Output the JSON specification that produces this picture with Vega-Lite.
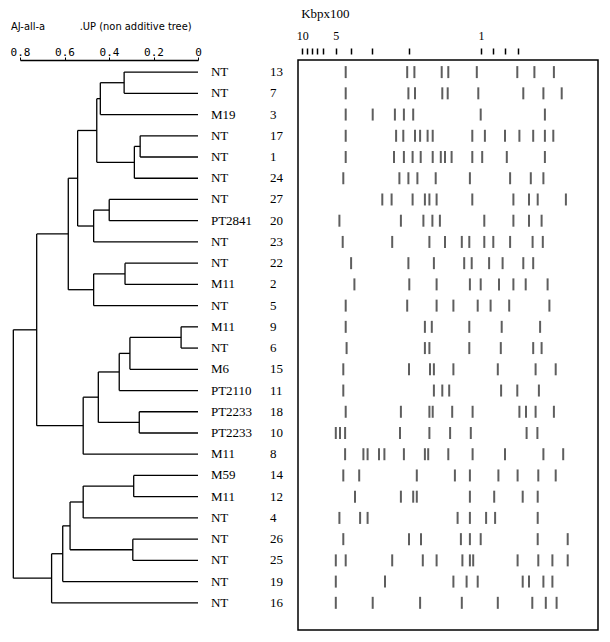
{
  "$schema": "https://vega.github.io/schema/vega-lite/v6.json",
  "background": "white",
  "padding": {"left": 10, "top": 7, "right": 5, "bottom": 5},
  "spacing": 11,
  "config": {"view": {"stroke": null}, "axis": {"grid": false}},
  "datasets": {
    "segments": [
      {"d1":0,"d2":0.332,"r1":1,"r2":1},{"d1":0,"d2":0.332,"r1":2,"r2":2},{"d1":0,"d2":0.439,"r1":3,"r2":3},
      {"d1":0,"d2":0.26,"r1":4,"r2":4},{"d1":0,"d2":0.26,"r1":5,"r2":5},{"d1":0,"d2":0.286,"r1":6,"r2":6},
      {"d1":0,"d2":0.399,"r1":7,"r2":7},{"d1":0,"d2":0.399,"r1":8,"r2":8},{"d1":0,"d2":0.469,"r1":9,"r2":9},
      {"d1":0,"d2":0.328,"r1":10,"r2":10},{"d1":0,"d2":0.328,"r1":11,"r2":11},{"d1":0,"d2":0.469,"r1":12,"r2":12},
      {"d1":0,"d2":0.076,"r1":13,"r2":13},{"d1":0,"d2":0.076,"r1":14,"r2":14},{"d1":0,"d2":0.306,"r1":15,"r2":15},
      {"d1":0,"d2":0.354,"r1":16,"r2":16},{"d1":0,"d2":0.264,"r1":17,"r2":17},{"d1":0,"d2":0.264,"r1":18,"r2":18},
      {"d1":0,"d2":0.516,"r1":19,"r2":19},{"d1":0,"d2":0.289,"r1":20,"r2":20},{"d1":0,"d2":0.289,"r1":21,"r2":21},
      {"d1":0,"d2":0.516,"r1":22,"r2":22},{"d1":0,"d2":0.293,"r1":23,"r2":23},{"d1":0,"d2":0.293,"r1":24,"r2":24},
      {"d1":0,"d2":0.608,"r1":25,"r2":25},{"d1":0,"d2":0.658,"r1":26,"r2":26},
      {"d1":0.332,"d2":0.439,"r1":1.5,"r2":1.5},{"d1":0.439,"d2":0.455,"r1":2.25,"r2":2.25},
      {"d1":0.26,"d2":0.286,"r1":4.5,"r2":4.5},{"d1":0.286,"d2":0.455,"r1":5.25,"r2":5.25},
      {"d1":0.455,"d2":0.541,"r1":3.75,"r2":3.75},{"d1":0.399,"d2":0.469,"r1":7.5,"r2":7.5},
      {"d1":0.469,"d2":0.541,"r1":8.25,"r2":8.25},{"d1":0.541,"d2":0.583,"r1":6,"r2":6},
      {"d1":0.328,"d2":0.469,"r1":10.5,"r2":10.5},{"d1":0.469,"d2":0.583,"r1":11.25,"r2":11.25},
      {"d1":0.583,"d2":0.725,"r1":8.625,"r2":8.625},
      {"d1":0.076,"d2":0.306,"r1":13.5,"r2":13.5},{"d1":0.306,"d2":0.354,"r1":14.25,"r2":14.25},
      {"d1":0.354,"d2":0.448,"r1":15.125,"r2":15.125},{"d1":0.264,"d2":0.448,"r1":17.5,"r2":17.5},
      {"d1":0.448,"d2":0.516,"r1":16.3125,"r2":16.3125},{"d1":0.516,"d2":0.725,"r1":17.656,"r2":17.656},
      {"d1":0.725,"d2":0.83,"r1":13.14,"r2":13.14},
      {"d1":0.289,"d2":0.516,"r1":20.5,"r2":20.5},{"d1":0.516,"d2":0.575,"r1":21.25,"r2":21.25},
      {"d1":0.293,"d2":0.575,"r1":23.5,"r2":23.5},{"d1":0.575,"d2":0.608,"r1":22.375,"r2":22.375},
      {"d1":0.608,"d2":0.658,"r1":23.6875,"r2":23.6875},{"d1":0.658,"d2":0.83,"r1":24.84,"r2":24.84},
      {"d1":0.332,"d2":0.332,"r1":1,"r2":2},{"d1":0.439,"d2":0.439,"r1":1.5,"r2":3},
      {"d1":0.26,"d2":0.26,"r1":4,"r2":5},{"d1":0.286,"d2":0.286,"r1":4.5,"r2":6},
      {"d1":0.455,"d2":0.455,"r1":2.25,"r2":5.25},{"d1":0.399,"d2":0.399,"r1":7,"r2":8},
      {"d1":0.469,"d2":0.469,"r1":7.5,"r2":9},{"d1":0.541,"d2":0.541,"r1":3.75,"r2":8.25},
      {"d1":0.328,"d2":0.328,"r1":10,"r2":11},{"d1":0.469,"d2":0.469,"r1":10.5,"r2":12},
      {"d1":0.583,"d2":0.583,"r1":6,"r2":11.25},
      {"d1":0.076,"d2":0.076,"r1":13,"r2":14},{"d1":0.306,"d2":0.306,"r1":13.5,"r2":15},
      {"d1":0.354,"d2":0.354,"r1":14.25,"r2":16},{"d1":0.264,"d2":0.264,"r1":17,"r2":18},
      {"d1":0.448,"d2":0.448,"r1":15.125,"r2":17.5},{"d1":0.516,"d2":0.516,"r1":16.3125,"r2":19},
      {"d1":0.725,"d2":0.725,"r1":8.625,"r2":17.656},
      {"d1":0.289,"d2":0.289,"r1":20,"r2":21},{"d1":0.516,"d2":0.516,"r1":20.5,"r2":22},
      {"d1":0.293,"d2":0.293,"r1":23,"r2":24},{"d1":0.575,"d2":0.575,"r1":21.25,"r2":23.5},
      {"d1":0.608,"d2":0.608,"r1":22.375,"r2":25},{"d1":0.658,"d2":0.658,"r1":23.6875,"r2":26},
      {"d1":0.83,"d2":0.83,"r1":13.14,"r2":24.84}
    ],
    "leaves": [
      {"r":1,"strain":"NT","isolate":"13"},{"r":2,"strain":"NT","isolate":"7"},{"r":3,"strain":"M19","isolate":"3"},
      {"r":4,"strain":"NT","isolate":"17"},{"r":5,"strain":"NT","isolate":"1"},{"r":6,"strain":"NT","isolate":"24"},
      {"r":7,"strain":"NT","isolate":"27"},{"r":8,"strain":"PT2841","isolate":"20"},{"r":9,"strain":"NT","isolate":"23"},
      {"r":10,"strain":"NT","isolate":"22"},{"r":11,"strain":"M11","isolate":"2"},{"r":12,"strain":"NT","isolate":"5"},
      {"r":13,"strain":"M11","isolate":"9"},{"r":14,"strain":"NT","isolate":"6"},{"r":15,"strain":"M6","isolate":"15"},
      {"r":16,"strain":"PT2110","isolate":"11"},{"r":17,"strain":"PT2233","isolate":"18"},{"r":18,"strain":"PT2233","isolate":"10"},
      {"r":19,"strain":"M11","isolate":"8"},{"r":20,"strain":"M59","isolate":"14"},{"r":21,"strain":"M11","isolate":"12"},
      {"r":22,"strain":"NT","isolate":"4"},{"r":23,"strain":"NT","isolate":"26"},{"r":24,"strain":"NT","isolate":"25"},
      {"r":25,"strain":"NT","isolate":"19"},{"r":26,"strain":"NT","isolate":"16"}
    ],
    "bands": [
      {"r":1,"m":15.9},{"r":1,"m":36.4},{"r":1,"m":38.8},{"r":1,"m":47.9},{"r":1,"m":50.1},{"r":1,"m":59.6},{"r":1,"m":73.1},{"r":1,"m":78.8},{"r":1,"m":85.3},
      {"r":2,"m":15.9},{"r":2,"m":36.8},{"r":2,"m":39.0},{"r":2,"m":48.1},{"r":2,"m":49.9},{"r":2,"m":60.1},{"r":2,"m":75.1},{"r":2,"m":81.8},{"r":2,"m":87.9},
      {"r":3,"m":15.9},{"r":3,"m":24.9},{"r":3,"m":32.3},{"r":3,"m":35.3},{"r":3,"m":38.4},{"r":3,"m":60.9},{"r":3,"m":82.3},
      {"r":4,"m":15.9},{"r":4,"m":32.7},{"r":4,"m":35.1},{"r":4,"m":39.0},{"r":4,"m":40.7},{"r":4,"m":43.2},{"r":4,"m":44.9},{"r":4,"m":58.1},{"r":4,"m":62.3},{"r":4,"m":69.0},{"r":4,"m":73.8},{"r":4,"m":78.4},{"r":4,"m":82.3},{"r":4,"m":85.1},
      {"r":5,"m":15.9},{"r":5,"m":32.0},{"r":5,"m":35.3},{"r":5,"m":38.2},{"r":5,"m":40.9},{"r":5,"m":44.9},{"r":5,"m":47.6},{"r":5,"m":49.0},{"r":5,"m":51.2},{"r":5,"m":58.1},{"r":5,"m":61.4},{"r":5,"m":69.6},{"r":5,"m":82.3},
      {"r":6,"m":15.1},{"r":6,"m":33.8},{"r":6,"m":36.8},{"r":6,"m":39.8},{"r":6,"m":45.9},{"r":6,"m":57.3},{"r":6,"m":70.7},{"r":6,"m":77.6},{"r":6,"m":81.8},
      {"r":7,"m":28.1},{"r":7,"m":31.2},{"r":7,"m":38.2},{"r":7,"m":42.3},{"r":7,"m":43.8},{"r":7,"m":46.2},{"r":7,"m":58.1},{"r":7,"m":71.8},{"r":7,"m":77.0},{"r":7,"m":79.9},{"r":7,"m":89.3},
      {"r":8,"m":13.8},{"r":8,"m":34.3},{"r":8,"m":41.8},{"r":8,"m":44.8},{"r":8,"m":47.3},{"r":8,"m":62.1},{"r":8,"m":71.8},{"r":8,"m":77.0},{"r":8,"m":81.2},
      {"r":9,"m":14.9},{"r":9,"m":31.4},{"r":9,"m":43.8},{"r":9,"m":49.0},{"r":9,"m":54.6},{"r":9,"m":57.1},{"r":9,"m":62.1},{"r":9,"m":65.1},{"r":9,"m":70.7},{"r":9,"m":78.2},{"r":9,"m":81.6},
      {"r":10,"m":17.7},{"r":10,"m":36.8},{"r":10,"m":45.3},{"r":10,"m":55.4},{"r":10,"m":57.9},{"r":10,"m":63.7},{"r":10,"m":68.2},{"r":10,"m":75.1},{"r":10,"m":78.4},
      {"r":11,"m":18.8},{"r":11,"m":37.1},{"r":11,"m":46.2},{"r":11,"m":57.3},{"r":11,"m":60.9},{"r":11,"m":67.0},{"r":11,"m":71.8},{"r":11,"m":75.9},{"r":11,"m":83.2},
      {"r":12,"m":15.9},{"r":12,"m":36.4},{"r":12,"m":46.2},{"r":12,"m":51.8},{"r":12,"m":59.9},{"r":12,"m":64.2},{"r":12,"m":70.4},{"r":12,"m":83.8},
      {"r":13,"m":15.9},{"r":13,"m":42.3},{"r":13,"m":44.6},{"r":13,"m":57.1},{"r":13,"m":67.9},{"r":13,"m":80.7},
      {"r":14,"m":16.2},{"r":14,"m":42.3},{"r":14,"m":43.8},{"r":14,"m":57.1},{"r":14,"m":67.6},{"r":14,"m":78.4},{"r":14,"m":81.2},
      {"r":15,"m":15.1},{"r":15,"m":37.0},{"r":15,"m":44.0},{"r":15,"m":45.3},{"r":15,"m":51.8},{"r":15,"m":66.6},{"r":15,"m":79.2},{"r":15,"m":85.9},
      {"r":16,"m":15.1},{"r":16,"m":45.3},{"r":16,"m":48.1},{"r":16,"m":50.4},{"r":16,"m":67.7},{"r":16,"m":73.1},{"r":16,"m":80.3},
      {"r":17,"m":15.9},{"r":17,"m":34.3},{"r":17,"m":43.8},{"r":17,"m":44.9},{"r":17,"m":51.4},{"r":17,"m":58.2},{"r":17,"m":73.8},{"r":17,"m":76.0},{"r":17,"m":79.2},{"r":17,"m":85.3},
      {"r":18,"m":12.6},{"r":18,"m":14.0},{"r":18,"m":15.7},{"r":18,"m":34.0},{"r":18,"m":43.8},{"r":18,"m":50.7},{"r":18,"m":57.6},{"r":18,"m":76.2},{"r":18,"m":79.8},
      {"r":19,"m":15.7},{"r":19,"m":21.8},{"r":19,"m":23.2},{"r":19,"m":27.0},{"r":19,"m":28.8},{"r":19,"m":35.3},{"r":19,"m":42.3},{"r":19,"m":43.4},{"r":19,"m":50.1},{"r":19,"m":58.2},{"r":19,"m":69.0},{"r":19,"m":81.8},{"r":19,"m":88.4},
      {"r":20,"m":15.1},{"r":20,"m":20.4},{"r":20,"m":39.6},{"r":20,"m":52.3},{"r":20,"m":57.3},{"r":20,"m":66.8},{"r":20,"m":73.2},{"r":20,"m":80.1},{"r":20,"m":85.9},
      {"r":21,"m":19.0},{"r":21,"m":34.3},{"r":21,"m":38.4},{"r":21,"m":39.6},{"r":21,"m":57.3},{"r":21,"m":65.4},{"r":21,"m":74.9},{"r":21,"m":79.9},
      {"r":22,"m":13.8},{"r":22,"m":20.7},{"r":22,"m":23.2},{"r":22,"m":53.2},{"r":22,"m":57.3},{"r":22,"m":62.7},{"r":22,"m":65.7},{"r":22,"m":79.9},
      {"r":23,"m":15.1},{"r":23,"m":37.0},{"r":23,"m":41.0},{"r":23,"m":54.3},{"r":23,"m":57.3},{"r":23,"m":60.9},{"r":23,"m":79.9},{"r":23,"m":89.9},
      {"r":24,"m":12.6},{"r":24,"m":15.9},{"r":24,"m":31.4},{"r":24,"m":41.6},{"r":24,"m":46.2},{"r":24,"m":54.8},{"r":24,"m":57.3},{"r":24,"m":58.4},{"r":24,"m":73.2},{"r":24,"m":80.1},{"r":24,"m":84.8},{"r":24,"m":89.9},
      {"r":25,"m":12.6},{"r":25,"m":29.0},{"r":25,"m":51.8},{"r":25,"m":56.2},{"r":25,"m":59.9},{"r":25,"m":74.9},{"r":25,"m":77.0},{"r":25,"m":81.8},{"r":25,"m":84.8},
      {"r":26,"m":12.6},{"r":26,"m":24.9},{"r":26,"m":40.7},{"r":26,"m":54.6},{"r":26,"m":66.6},{"r":26,"m":78.1},{"r":26,"m":82.6},{"r":26,"m":86.2}
    ]
  },
  "hconcat": [
    {
      "width": 178,
      "height": 570,
      "title": {
        "text": "AJ-all-a\u00a0\u00a0\u00a0\u00a0\u00a0\u00a0\u00a0\u00a0\u00a0\u00a0\u00a0.UP (non additive tree)",
        "anchor": "start",
        "font": "Liberation Sans Narrow, DejaVu Sans Condensed, Liberation Sans",
        "fontSize": 11,
        "fontWeight": "normal",
        "color": "black",
        "offset": 14,
        "dx": 1
      },
      "layer": [
        {
          "data": {"name": "segments"},
          "mark": {"type": "rule", "color": "black", "strokeWidth": 1.3},
          "encoding": {
            "x": {
              "field": "d1", "type": "quantitative",
              "scale": {"domain": [0, 0.8], "reverse": true, "nice": false, "zero": false},
              "axis": {
                "orient": "top", "values": [0.8, 0.6, 0.4, 0.2, 0],
                "labelExpr": "datum.value == 0 ? '0' : format(datum.value, '.1f')",
                "domain": true, "domainColor": "black", "domainWidth": 1.3,
                "ticks": true, "tickSize": 3, "tickColor": "black",
                "labelPadding": 0, "labelFont": "DejaVu Sans Mono", "labelFontSize": 11,
                "labelColor": "black", "labelFlush": false, "labelOverlap": false, "title": null
              }
            },
            "x2": {"field": "d2"},
            "y": {
              "field": "r1", "type": "quantitative",
              "scale": {"domain": [0.43, 27.28], "reverse": true, "nice": false, "zero": false},
              "axis": null
            },
            "y2": {"field": "r2"}
          }
        },
        {
          "data": {"name": "leaves"},
          "mark": {"type": "text", "align": "left", "baseline": "middle", "font": "Liberation Serif", "fontSize": 13, "color": "black"},
          "encoding": {
            "x": {"datum": -0.058, "type": "quantitative"},
            "y": {"field": "r", "type": "quantitative"},
            "text": {"field": "strain"}
          }
        },
        {
          "data": {"name": "leaves"},
          "mark": {"type": "text", "align": "left", "baseline": "middle", "font": "Liberation Serif", "fontSize": 13, "color": "black"},
          "encoding": {
            "x": {"datum": -0.324, "type": "quantitative"},
            "y": {"field": "r", "type": "quantitative"},
            "text": {"field": "isolate"}
          }
        }
      ]
    },
    {
      "width": 300,
      "height": 570,
      "view": {"stroke": "black", "strokeWidth": 1.5},
      "title": {
        "text": "Kbpx100",
        "anchor": "start",
        "font": "Liberation Serif",
        "fontSize": 13,
        "fontWeight": "normal",
        "color": "black",
        "offset": 8,
        "dx": 5
      },
      "data": {"name": "bands"},
      "mark": {"type": "tick", "orient": "vertical", "size": 12, "thickness": 2, "color": "#1a1a1a"},
      "encoding": {
        "x": {
          "field": "m", "type": "quantitative",
          "scale": {"domain": [0, 100], "nice": false, "zero": false},
          "axis": {
            "orient": "top",
            "values": [1.4, 3.1, 4.6, 6.2, 8.4, 12.6, 17.7, 24.8, 37.1, 61, 64.9, 69, 73.2],
            "labelExpr": "datum.value == 1.4 ? '10' : datum.value == 12.6 ? '5' : datum.value == 61 ? '1' : ''",
            "domain": false, "tickSize": 6, "tickWidth": 1.5, "tickColor": "black", "offset": 6,
            "labelPadding": 6, "labelFont": "Liberation Serif", "labelFontSize": 12, "labelColor": "black",
            "labelFlush": false, "labelOverlap": false, "labelBound": false, "title": null
          }
        },
        "y": {
          "field": "r", "type": "quantitative",
          "scale": {"domain": [0.43, 27.28], "reverse": true, "nice": false, "zero": false},
          "axis": null
        }
      }
    }
  ]
}
